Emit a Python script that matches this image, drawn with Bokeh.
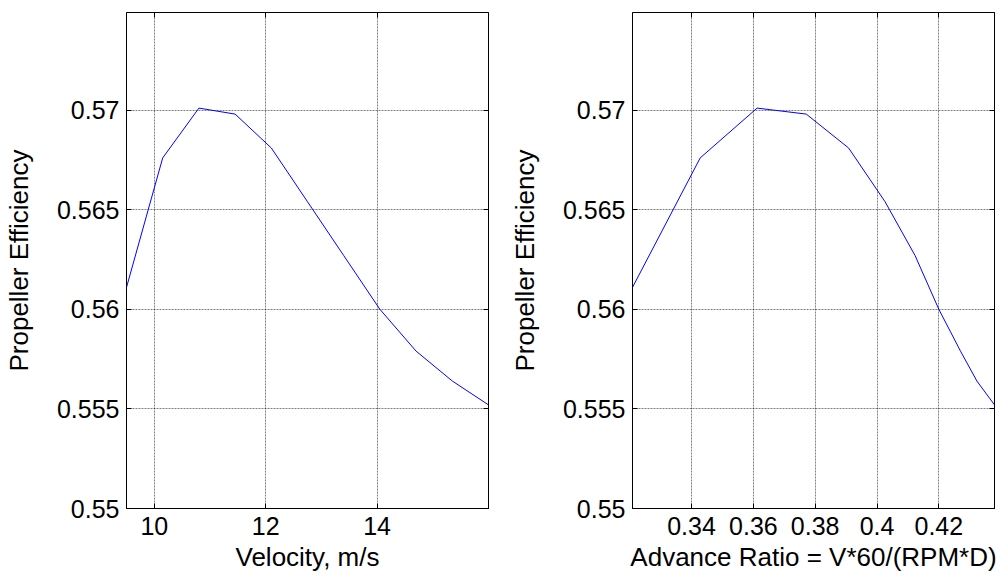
from bokeh.plotting import figure
from bokeh.layouts import row
from bokeh.models import LinearAxis, FixedTicker, Range1d, PrintfTickFormatter
from bokeh.embed import file_html
from bokeh.resources import INLINE

# Data
velocity = [9.5, 10.15, 10.8, 11.45, 12.1, 12.75, 13.4, 14.05, 14.7, 15.35, 16.0]
advance_ratio = [0.3209, 0.3428, 0.3612, 0.3771, 0.3908, 0.4026, 0.4123, 0.4200, 0.4270, 0.4323, 0.4380]
efficiency = [0.5611, 0.5676, 0.5701, 0.5698, 0.5681, 0.5654, 0.5627, 0.5600, 0.5579, 0.5564, 0.5552]

velocity_ticks = [10, 12, 14]
advance_ticks = [0.34, 0.36, 0.38, 0.40, 0.42]
eff_ticks = [0.55, 0.555, 0.56, 0.565, 0.57]

FONT = "Liberation Sans"
TICK_SIZE = "25px"
LABEL_SIZE = "26px"


def make_fig(x, xstart, xend, xticks, xlabel, border_left, border_right):
    p = figure(width=504, height=579, output_backend="svg", toolbar_location=None,
               x_range=Range1d(xstart, xend), y_range=Range1d(0.55, 0.5749),
               min_border_left=border_left, min_border_right=border_right,
               min_border_top=12, min_border_bottom=71,
               x_axis_label=xlabel, y_axis_label="Propeller Efficiency")
    p.outline_line_color = "black"
    p.outline_line_width = 1
    p.background_fill_color = "white"
    p.border_fill_color = "white"

    fmt = PrintfTickFormatter(format="%g")
    for ax, ticks in ((p.xaxis[0], xticks), (p.yaxis[0], eff_ticks)):
        ax.ticker = FixedTicker(ticks=ticks)
        ax.formatter = fmt
        ax.major_tick_in = 5
        ax.major_tick_out = 0
        ax.minor_tick_line_color = None
        ax.axis_line_color = "black"
        ax.major_tick_line_color = "black"
        ax.major_label_text_font = FONT
        ax.major_label_text_font_size = TICK_SIZE
        ax.major_label_text_color = "black"
        ax.axis_label_text_font = FONT
        ax.axis_label_text_font_size = LABEL_SIZE
        ax.axis_label_text_font_style = "normal"
        ax.axis_label_text_color = "black"
    p.xaxis[0].major_label_standoff = 8
    p.xaxis[0].axis_label_standoff = 4
    p.yaxis[0].major_label_standoff = 7
    p.yaxis[0].axis_label_standoff = 20

    top = LinearAxis(ticker=FixedTicker(ticks=xticks), major_label_text_font_size="0px",
                     major_label_text_color=None,
                     major_label_standoff=0, major_tick_in=5, major_tick_out=0,
                     minor_tick_line_color=None, axis_line_color=None,
                     major_tick_line_color="black")
    p.add_layout(top, "above")
    right = LinearAxis(ticker=FixedTicker(ticks=eff_ticks), major_label_text_font_size="0px",
                       major_label_text_color=None,
                       major_label_standoff=0, major_tick_in=5, major_tick_out=0,
                       minor_tick_line_color=None, axis_line_color="black",
                       major_tick_line_color="black")
    p.add_layout(right, "right")

    p.xgrid.ticker = FixedTicker(ticks=xticks)
    p.ygrid.ticker = FixedTicker(ticks=eff_ticks)
    for g in (p.xgrid[0], p.ygrid[0]):
        g.grid_line_color = "black"
        g.grid_line_alpha = 0.5
        g.grid_line_dash = "2 1"
        g.grid_line_width = 1

    p.line(x, efficiency, line_color="#0000ff", line_width=1)
    return p


p1 = make_fig(velocity, 9.5, 16.0, velocity_ticks, "Velocity, m/s", 125, 16)
p2 = make_fig(advance_ratio, 0.3209, 0.4380, advance_ticks, "Advance Ratio = V*60/(RPM*D)", 128, 14)

layout = row(p1, p2)
open("out.html", "w").write(file_html(layout, INLINE))
